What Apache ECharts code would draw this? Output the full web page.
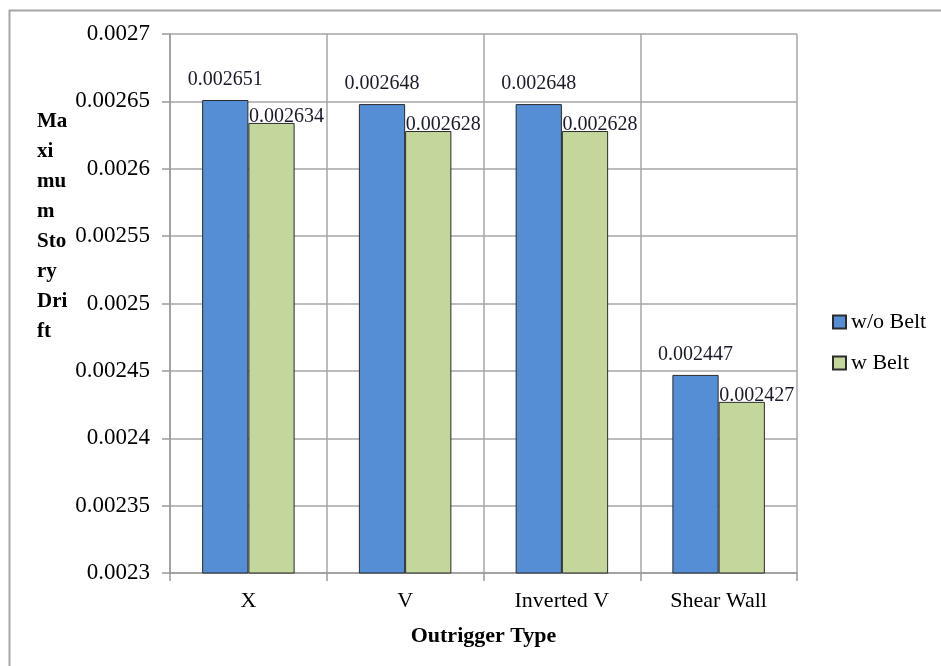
<!DOCTYPE html>
<html>
<head>
<meta charset="utf-8">
<script src="https://cdn.jsdelivr.net/npm/echarts@6/dist/echarts.min.js"></script>
<style>html,body{margin:0;padding:0;background:#fff;}#c{width:941px;height:666px;}</style>
</head>
<body>
<div id="c"></div>
<script>
var categories = ['X', 'V', 'Inverted V', 'Shear Wall'];
var withoutBelt = [0.002651, 0.002648, 0.002648, 0.002447];
var withBelt = [0.002634, 0.002628, 0.002628, 0.002427];
var seriesNames = ['w/o Belt', 'w Belt'];
var yTitle = 'Ma\nxi\nmu\nm\nSto\nry\nDri\nft';
var xTitle = 'Outrigger Type';

var FONT = '"Liberation Serif", "Times New Roman", serif';
var chart = echarts.init(document.getElementById('c'), null, {renderer: 'canvas'});
chart.setOption({
  animation: false,
  backgroundColor: '#fff',
  textStyle: {fontFamily: FONT},
  grid: {left: 170, right: 144, top: 34, bottom: 93, containLabel: false},
  graphic: [
    {type: 'rect', left: 7, top: 8, shape: {width: 960, height: 680}, style: {fill: 'none', stroke: '#a6a6a6', lineWidth: 2}, silent: true},
    {type: 'text', left: 37, top: 107, style: {text: yTitle, font: 'bold 21px ' + FONT, fill: '#000', lineHeight: 30}}
  ],
  legend: {
    orient: 'vertical', left: 832, top: 311, padding: 0, itemWidth: 13, itemHeight: 13, itemGap: 19,
    icon: 'rect',
    textStyle: {fontFamily: FONT, fontSize: 22, color: '#000'},
    data: seriesNames
  },
  xAxis: {
    type: 'category', data: categories,
    name: xTitle, nameLocation: 'middle', nameGap: 52,
    nameTextStyle: {fontFamily: FONT, fontSize: 22, fontWeight: 'bold', color: '#000'},
    axisLine: {lineStyle: {color: '#9a9a9a', width: 1.5}},
    axisTick: {show: true, length: 8, lineStyle: {color: '#9a9a9a', width: 1.5}},
    axisLabel: {fontFamily: FONT, fontSize: 22, color: '#000', margin: 17},
    splitLine: {show: true, lineStyle: {color: '#a6a6a6', width: 1.5}}
  },
  yAxis: {
    type: 'value', min: 0.0023, max: 0.0027, interval: 0.00005,
    axisLine: {show: true, lineStyle: {color: '#9a9a9a', width: 1.5}},
    axisTick: {show: true, length: 8, lineStyle: {color: '#9a9a9a', width: 1.5}},
    axisLabel: {fontFamily: FONT, fontSize: 23, color: '#000', margin: 20,
      formatter: function (v) { return String(parseFloat(v.toFixed(6))); }},
    splitLine: {show: true, lineStyle: {color: '#a6a6a6', width: 1.5}}
  },
  series: [
    {
      name: seriesNames[0], type: 'bar', data: withoutBelt,
      barGap: '0%', barCategoryGap: '41%',
      itemStyle: {color: '#558ed5', borderColor: '#2b2b2b', borderWidth: 1},
      label: {show: true, position: 'top', distance: 10, fontFamily: FONT, fontSize: 20, color: '#1a1a2a',
        formatter: function (p) { return p.value.toFixed(6); }}
    },
    {
      name: seriesNames[1], type: 'bar', data: withBelt,
      barGap: '0%', barCategoryGap: '41%',
      itemStyle: {color: '#c3d69b', borderColor: '#2b2b2b', borderWidth: 1},
      label: {show: true, position: 'top', distance: 0, offset: [15, 4], fontFamily: FONT, fontSize: 20, color: '#1a1a2a',
        formatter: function (p) { return p.value.toFixed(6); }}
    }
  ]
});
</script>
</body>
</html>
